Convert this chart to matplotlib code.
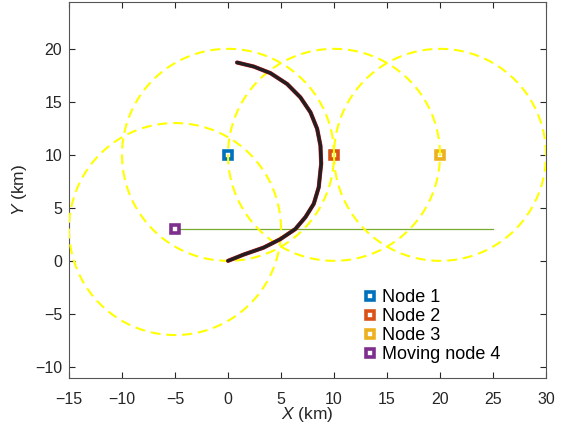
import numpy as np
import matplotlib
matplotlib.use('Agg')
import matplotlib.pyplot as plt

plt.rcParams['font.family'] = ['Liberation Sans', 'DejaVu Sans']
plt.rcParams['mathtext.fontset'] = 'custom'
plt.rcParams['mathtext.it'] = 'Liberation Sans:italic'
plt.rcParams['mathtext.rm'] = 'Liberation Sans'

# anchor nodes and the moving node
node_x = [0, 10, 20, -5]
node_y = [10, 10, 10, 3]
node_names = ['Node 1', 'Node 2', 'Node 3', 'Moving node 4']
node_colors = ['#0072BD', '#D95319', '#EDB120', '#7E2F8E']
radius = 10

# path of moving node 4 (straight line)
path_x = [-5, 25]
path_y = [3, 3]

# estimated trajectory
traj_x = [0.0, 1.47, 3.36, 4.94, 6.35, 7.31, 8.09, 8.56, 8.72, 8.79, 8.72,
          8.41, 7.78, 6.83, 5.58, 4.0, 2.42, 0.85]
traj_y = [0.0, 0.59, 1.25, 2.05, 3.0, 4.13, 5.38, 6.95, 8.52, 9.15, 10.87,
          12.45, 14.01, 15.42, 16.68, 17.71, 18.33, 18.71]

fig = plt.figure(figsize=(5.67, 4.38), dpi=100)
ax = fig.add_axes([0.1217, 0.137, 0.8413, 0.858])

# green path
ax.plot(path_x, path_y, color='#77AC30', lw=0.9, zorder=1)

# node markers
for x, y, name, c in zip(node_x, node_y, node_names, node_colors):
    ax.plot(x, y, 's', ms=5.5, mfc='white', mec=c, mew=2.6, label=name, zorder=2)

# range circles
t = np.linspace(0, 2 * np.pi, 400)
for x, y in zip(node_x, node_y):
    ax.plot(x + radius * np.cos(t), y + radius * np.sin(t), '--',
            color='#FFFF00', lw=1.5, dashes=(4.8, 2.8), zorder=3)

# trajectory: red estimate under dark line
ax.plot(traj_x, traj_y, color='#e8202a', lw=3.0, zorder=4,
        solid_capstyle='round', solid_joinstyle='round')
ax.plot(traj_x, traj_y, color='#231f20', lw=2.5, zorder=5,
        solid_capstyle='round', solid_joinstyle='round')

ax.set_xlim(-15, 30)
ax.set_ylim(-11.05, 24.4)
ax.set_xticks(np.arange(-15, 31, 5))
ax.set_yticks(np.arange(-10, 21, 5))
ax.tick_params(direction='in', top=True, right=True, labelsize=11.5,
               colors='#262626', length=4, width=0.8)
ax.tick_params(axis='x', pad=10)
ax.tick_params(axis='y', pad=5)
for s in ax.spines.values():
    s.set_color('#555555')
    s.set_linewidth(0.8)

ax.set_xlabel(r'$\mathit{X}$ (km)', fontsize=12.5, color='#262626', labelpad=-1)
ax.set_ylabel(r'$\mathit{Y}$ (km)', fontsize=12.5, color='#262626', labelpad=4)

leg = ax.legend(loc='upper left', bbox_to_anchor=(0.6, 0.261), frameon=False,
                fontsize=13, handlelength=0.6, handletextpad=0.4,
                labelspacing=0.12, borderpad=0)

fig.savefig('out.png', dpi=100)
